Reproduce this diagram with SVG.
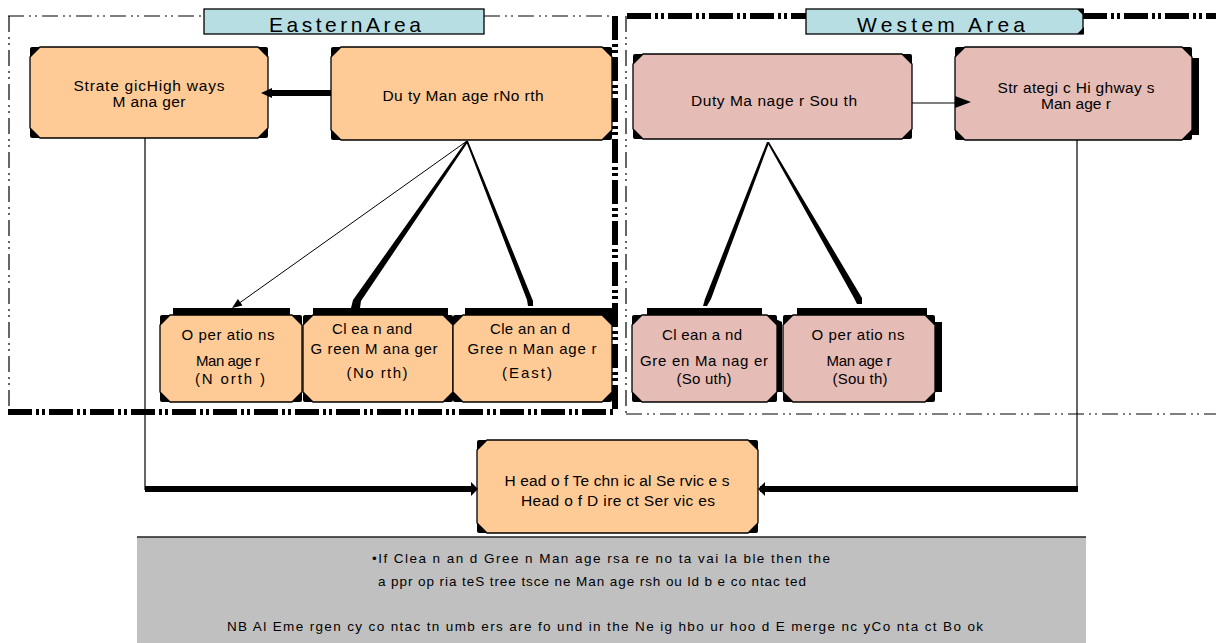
<svg xmlns="http://www.w3.org/2000/svg" width="1216" height="643" viewBox="0 0 1216 643">
<style>
text{font-family:"Liberation Sans",Arial,sans-serif;fill:#000;text-anchor:middle;dominant-baseline:central}
.n{font-size:15.5px}
.s{font-size:15px}
.g{font-size:13.5px}
.t{font-size:21px;dominant-baseline:alphabetic}
.peach{fill:#fecb97;stroke:#000;stroke-width:1.3}
.pink{fill:#e6bcb6;stroke:#000;stroke-width:1.3}
.bk{fill:#000}
.lbl{fill:#b7dfe3;stroke:#000;stroke-width:1.3}
.thin{stroke:#000;stroke-width:1.2;fill:none}
.dthin{stroke:#000;stroke-width:1.2;fill:none;stroke-dasharray:16 5 2 4 2 5}
.dthick{stroke:#000;stroke-width:6;fill:none;stroke-dasharray:24 4 3 3 3 4}
</style>
<rect width="1216" height="643" fill="#fff"/>
<g id="area-borders">
<path class="dthin" d="M8,16H204M484,16H612"/>
<path class="dthin" d="M9,16V410"/>
<path class="dthick" d="M615,16V412"/>
<path class="dthick" d="M8,412H615"/>
<path class="dthick" d="M627,16H806M1083,16H1216"/>
<path class="dthin" d="M626,16V414"/>
<path class="dthin" d="M626,414H1216"/>
</g>
<g id="eastern-area-label">
<rect class="lbl" x="204" y="9" width="280" height="25"/>
<text class="t" x="345" y="32" textLength="152">EasternArea</text>
</g>
<g id="western-area-label">
<rect class="lbl" x="806" y="9" width="277" height="25"/>
<polygon class="bk" points="1077,9 1084,9 1084,16"/>
<polygon class="bk" points="1077,34 1084,34 1084,27"/>
<text class="t" x="941" y="32" textLength="168">Westem Area</text>
</g>
<g id="grey-note">
<rect x="137" y="537" width="949" height="106" fill="#c0c0c0"/>
<line x1="137" y1="537" x2="1086" y2="537" stroke="#222" stroke-width="1.5"/>
<text class="g" x="601" y="558" textLength="458">•If Clea n an d Gree n Man age rsa re no ta vai la ble then the</text>
<text class="g" x="592" y="581" textLength="428">a ppr op ria teS tree tsce ne Man age rsh ou ld b e co ntac ted</text>
<text class="g" x="605" y="626" textLength="756">NB Al Eme rgen cy co ntac tn umb ers are fo und in the Ne ig hbo ur hoo d E merge nc yCo nta ct Bo ok</text>
</g>
<g id="strategic-east">
<rect class="bk" x="30" y="47" width="238" height="91" rx="2"/>
<polygon class="peach" points="40,47 258,47 268,57 268,128 258,138 40,138 30,128 30,57"/>
<text class="n" x="149" y="85" textLength="151">Strate gicHigh ways</text>
<text class="n" x="149" y="101" textLength="73">M ana ger</text>
</g>
<g id="duty-north">
<rect class="bk" x="331" y="47" width="281" height="93" rx="2"/>
<polygon class="peach" points="341,47 602,47 612,57 612,130 602,140 341,140 331,130 331,57"/>
<text class="n" x="463" y="95" textLength="161">Du ty Man age rNo rth</text>
</g>
<g id="duty-south">
<rect class="bk" x="633" y="54" width="279" height="85" rx="2"/>
<polygon class="pink" points="643,54 902,54 912,64 912,129 902,139 643,139 633,129 633,64"/>
<text class="n" x="774" y="100" textLength="166">Duty Ma nage r Sou th</text>
</g>
<g id="strategic-west">
<rect class="bk" x="1186" y="58" width="13" height="77"/>
<rect class="bk" x="955" y="47" width="237" height="93" rx="2"/>
<polygon class="pink" points="965,47 1182,47 1192,57 1192,130 1182,140 965,140 955,130 955,57"/>
<text class="n" x="1076" y="87" textLength="157">Str ategi c Hi ghway s</text>
<text class="n" x="1076" y="103" textLength="70">Man age r</text>
</g>
<g id="ops-north">
<rect class="bk" x="173" y="308" width="117" height="10"/>
<rect class="bk" x="160" y="315" width="142" height="87" rx="2"/>
<polygon class="peach" points="170,315 292,315 302,325 302,392 292,402 170,402 160,392 160,325"/>
<text class="s" x="228" y="334" textLength="93">O per atio ns</text>
<text class="s" x="228" y="360" textLength="64">Man age r</text>
<text class="s" x="230" y="378" textLength="70">(N orth )</text>
</g>
<g id="cg-north">
<rect class="bk" x="313" y="308" width="135" height="10"/>
<rect class="bk" x="303" y="315" width="150" height="87" rx="2"/>
<polygon class="peach" points="313,315 443,315 453,325 453,392 443,402 313,402 303,392 303,325"/>
<text class="s" x="372" y="328" textLength="80">Cl ea n and</text>
<text class="s" x="374" y="348" textLength="127">G reen M ana ger</text>
<text class="s" x="377" y="372" textLength="61">(No rth)</text>
</g>
<g id="cg-east">
<rect class="bk" x="465" y="308" width="147" height="10"/>
<rect class="bk" x="453" y="315" width="159" height="87" rx="2"/>
<polygon class="peach" points="463,315 602,315 612,325 612,392 602,402 463,402 453,392 453,325"/>
<text class="s" x="530" y="328" textLength="80">Cle an an d</text>
<text class="s" x="532" y="348" textLength="129">Gree n Man age r</text>
<text class="s" x="527" y="372" textLength="50">(East)</text>
</g>
<g id="cg-south">
<rect class="bk" x="647" y="308" width="115" height="10"/>
<polygon class="bk" points="767,315 782,322 782,392 777,392"/>
<rect class="bk" x="632" y="315" width="145" height="87" rx="2"/>
<polygon class="pink" points="642,315 767,315 777,325 777,392 767,402 642,402 632,392 632,325"/>
<text class="s" x="702" y="334" textLength="80">Cl ean a nd</text>
<text class="s" x="704" y="360" textLength="128">Gre en Ma nag er</text>
<text class="s" x="704" y="378" textLength="55">(So uth)</text>
</g>
<g id="ops-south">
<rect class="bk" x="797" y="308" width="130" height="10"/>
<rect class="bk" x="930" y="322" width="12" height="70"/>
<rect class="bk" x="783" y="315" width="152" height="87" rx="2"/>
<polygon class="pink" points="793,315 925,315 935,325 935,392 925,402 793,402 783,392 783,325"/>
<text class="s" x="858" y="334" textLength="93">O per atio ns</text>
<text class="s" x="859" y="360" textLength="65">Man age r</text>
<text class="s" x="860" y="378" textLength="55">(Sou th)</text>
</g>
<g id="head-services">
<rect class="bk" x="477" y="440" width="281" height="93" rx="2"/>
<polygon class="peach" points="487,440 748,440 758,450 758,523 748,533 487,533 477,523 477,450"/>
<text class="n" x="617" y="480" textLength="225">H ead o f Te chn ic al Se rvic e s</text>
<text class="n" x="618" y="500" textLength="194">Head o f D ire ct Ser vic es</text>
</g>
<g id="connectors">
<rect class="bk" x="268" y="90" width="63" height="6"/>
<polygon class="bk" points="261,93 272,88 272,98"/>
<line class="thin" x1="912" y1="103" x2="957" y2="103"/>
<polygon class="bk" points="955,96 971,102 955,108"/>
<line x1="467" y1="141" x2="238" y2="304" stroke="#000" stroke-width="1"/>
<polygon class="bk" points="232,308 242.5,305.5 237.9,298.9"/>
<polygon class="bk" points="466,141 468,142 361,301 360,308 351,308 353,300"/>
<polygon class="bk" points="466,141 468,141 533,301 533,306 528,306 527,300"/>
<polygon class="bk" points="767,142 769,143 711,299 707,306 703,306 705,299"/>
<polygon class="bk" points="767,142 769,142 862,298 862,304 857,304 854,298"/>
<line class="thin" x1="145" y1="138" x2="145" y2="490"/>
<rect class="bk" x="145" y="486" width="330" height="6"/>
<polygon class="bk" points="471,482 478,489 471,496"/>
<line class="thin" x1="1077" y1="140" x2="1077" y2="490"/>
<rect class="bk" x="760" y="486" width="318" height="6"/>
<polygon class="bk" points="765,482 758,489 765,496"/>
</g>
</svg>
